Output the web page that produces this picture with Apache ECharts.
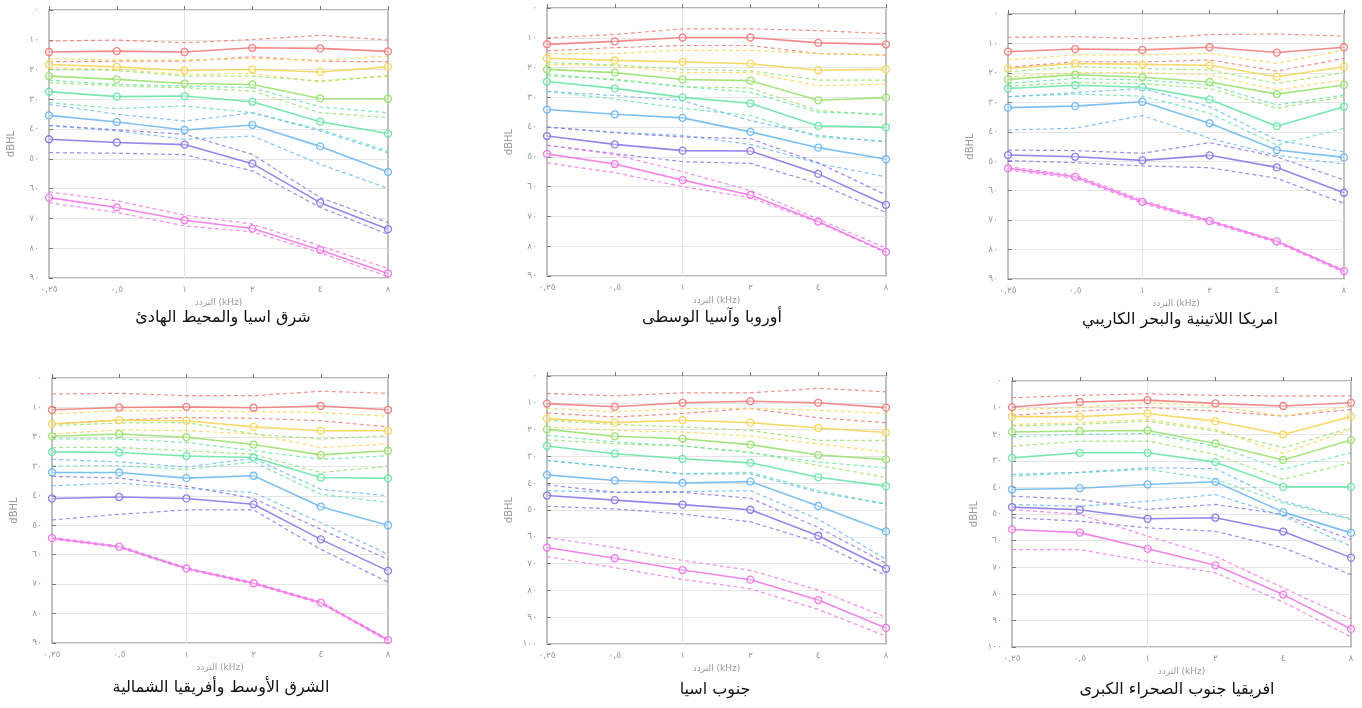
<!DOCTYPE html>
<html>
<head>
<meta charset="utf-8">
<script src="https://cdn.jsdelivr.net/npm/echarts@6/dist/echarts.min.js"></script>
<style>
html,body{margin:0;padding:0;background:#fff;}
#chart{width:1362px;height:708px;}
</style>
</head>
<body>
<div id="chart"></div>
<script>
// ---------- categories & tick labels ----------
const frequencies = [0.25, 0.5, 1, 2, 4, 8];
const xLabels = ['٠,٢٥', '٠,٥', '١', '٢', '٤', '٨'];
const yTickLabels = ['٠', '١٠', '٢٠', '٣٠', '٤٠', '٥٠', '٦٠', '٧٠', '٨٠', '٩٠', '١٠٠'];
const xAxisTitle = 'التردد (kHz)';
const yAxisTitle = 'dBHL';
const panelTitles = [
  'شرق اسيا والمحيط الهادئ',
  'أوروبا وآسيا الوسطى',
  'امريكا اللاتينية والبحر الكاريبي',
  'الشرق الأوسط وأفريقيا الشمالية',
  'جنوب اسيا',
  'افريقيا جنوب الصحراء الكبرى'
];
const groupNames = ['red', 'yellow', 'green', 'teal', 'blue', 'purple', 'magenta'];
const yMax = [90, 90, 90, 90, 100, 100];

// ---------- East Asia & Pacific ----------
const eapMedian = [
  [14.1, 13.8, 14.1, 12.7, 12.9, 13.9],
  [18.3, 19.1, 20.3, 20.0, 20.8, 19.1],
  [22.2, 23.3, 24.7, 25.0, 29.7, 29.8],
  [27.4, 29.1, 28.9, 30.8, 37.5, 41.5],
  [35.4, 37.6, 40.3, 38.6, 45.8, 54.4],
  [43.4, 44.5, 45.2, 51.6, 64.7, 73.6],
  [63.0, 66.3, 70.6, 73.4, 80.6, 88.5]
];
const eapUpper = [
  [10.4, 10.1, 11.0, 9.9, 8.5, 10.1],
  [16.3, 16.8, 16.8, 16.3, 16.9, 15.5],
  [20.0, 20.3, 22.2, 22.2, 23.8, 22.2],
  [23.6, 25.0, 25.5, 26.1, 32.5, 34.5],
  [31.7, 35.0, 37.3, 34.5, 40.6, 47.9],
  [38.7, 40.3, 41.7, 48.5, 63.0, 71.4],
  [61.1, 64.1, 68.9, 71.9, 79.2, 86.8]
];
const eapLower = [
  [17.4, 17.2, 17.2, 15.7, 17.2, 17.4],
  [19.4, 19.9, 21.6, 21.3, 24.2, 21.9],
  [24.4, 25.5, 26.1, 27.2, 34.5, 36.1],
  [31.1, 33.1, 32.2, 34.5, 40.1, 47.3],
  [38.9, 40.6, 43.4, 42.3, 51.8, 59.9],
  [47.9, 48.1, 48.6, 54.0, 66.3, 75.3],
  [64.7, 68.0, 72.5, 74.5, 81.5, 89.5]
];

// ---------- Europe & Central Asia ----------
const ecaMedian = [
  [12.2, 11.2, 9.9, 9.9, 11.7, 12.2],
  [16.9, 17.6, 18.1, 18.7, 20.9, 20.6],
  [20.6, 21.7, 24.0, 24.4, 31.0, 30.1],
  [24.7, 27.0, 30.0, 32.0, 39.6, 40.1],
  [34.1, 35.7, 36.9, 41.6, 46.9, 50.8],
  [43.0, 45.8, 47.9, 48.0, 55.7, 66.1],
  [49.0, 52.4, 57.8, 62.8, 71.7, 81.9]
];
const ecaUpper = [
  [10.0, 8.9, 7.0, 7.0, 7.6, 8.6],
  [15.3, 15.3, 14.2, 14.2, 15.3, 15.8],
  [18.3, 19.1, 20.6, 21.1, 24.2, 24.2],
  [22.2, 24.2, 26.4, 28.3, 35.0, 35.6],
  [28.0, 29.4, 31.1, 37.8, 42.8, 45.0],
  [40.0, 41.9, 43.3, 43.9, 52.0, 62.8],
  [46.1, 49.2, 55.0, 61.3, 70.9, 80.6]
];
const ecaLower = [
  [14.4, 13.3, 12.6, 12.6, 15.3, 15.8],
  [18.9, 19.4, 21.7, 21.7, 26.1, 25.6],
  [22.8, 23.9, 26.4, 26.9, 34.4, 36.1],
  [28.0, 30.6, 33.7, 36.1, 43.3, 44.8],
  [40.0, 41.7, 42.8, 45.8, 52.2, 56.7],
  [46.1, 48.9, 51.6, 52.2, 58.9, 68.7],
  [52.0, 55.3, 60.0, 63.7, 72.0, 82.2]
];

// ---------- Latin America & Caribbean ----------
const lacMedian = [
  [12.8, 11.9, 12.2, 11.3, 13.1, 11.3],
  [18.5, 16.8, 17.1, 17.4, 21.3, 17.9],
  [22.2, 20.6, 21.5, 23.1, 27.2, 24.1],
  [25.3, 24.2, 24.9, 29.0, 38.1, 31.5],
  [31.8, 31.3, 29.8, 37.1, 46.2, 48.7],
  [47.9, 48.5, 49.7, 48.0, 52.1, 60.7],
  [52.4, 55.3, 63.8, 70.3, 77.2, 87.3]
];
const lacUpper = [
  [7.9, 7.7, 8.4, 7.0, 6.8, 7.5],
  [15.6, 13.9, 13.9, 13.4, 16.8, 12.2],
  [19.6, 17.9, 18.5, 19.0, 23.6, 19.9],
  [23.6, 21.9, 22.4, 24.1, 30.9, 27.5],
  [28.1, 26.7, 25.3, 31.5, 42.8, 46.8],
  [46.2, 46.4, 47.3, 43.7, 48.5, 56.4],
  [51.9, 54.7, 63.2, 70.0, 77.0, 87.0]
];
const lacLower = [
  [18.1, 16.2, 16.3, 15.6, 19.4, 15.1],
  [21.3, 19.9, 19.9, 20.7, 25.8, 22.4],
  [24.5, 23.3, 23.6, 25.3, 32.0, 28.1],
  [28.1, 27.2, 27.9, 33.7, 44.5, 38.8],
  [39.4, 38.8, 34.5, 42.2, 48.0, 51.0],
  [49.8, 50.5, 51.6, 52.2, 55.8, 64.3],
  [53.0, 55.8, 64.3, 70.8, 77.6, 87.8]
];

// ---------- Middle East & North Africa ----------
const menaMedian = [
  [10.8, 10.0, 9.8, 10.1, 9.5, 10.8],
  [15.6, 14.3, 14.5, 16.6, 17.9, 17.9],
  [19.8, 19.0, 20.1, 22.6, 26.1, 24.7],
  [25.1, 25.3, 26.5, 27.0, 33.8, 34.1],
  [32.1, 32.1, 34.0, 33.2, 43.7, 50.0],
  [40.9, 40.4, 40.9, 42.9, 54.8, 65.5],
  [54.4, 57.3, 64.7, 69.7, 76.3, 89.0]
];
const menaUpper = [
  [5.4, 5.2, 6.0, 6.0, 4.5, 5.2],
  [12.2, 11.1, 11.1, 11.5, 11.7, 13.0],
  [16.2, 15.3, 15.1, 19.0, 20.7, 19.6],
  [20.7, 20.7, 21.9, 24.7, 27.6, 26.4],
  [27.6, 28.5, 30.2, 27.3, 37.8, 40.0],
  [33.4, 34.0, 36.8, 40.9, 51.4, 61.6],
  [54.1, 57.0, 64.4, 69.4, 76.0, 88.7]
];
const menaLower = [
  [15.6, 14.3, 13.4, 13.7, 14.5, 16.6],
  [19.0, 17.6, 17.9, 19.0, 23.6, 22.4],
  [23.6, 23.6, 24.7, 25.9, 32.1, 30.0],
  [29.8, 29.8, 31.0, 28.5, 39.5, 42.3],
  [36.6, 35.7, 37.5, 38.9, 49.1, 59.9],
  [48.2, 46.3, 44.8, 44.8, 58.2, 69.3],
  [54.7, 57.6, 65.0, 70.0, 76.6, 89.3]
];

// ---------- South Asia ----------
const saMedian = [
  [10.3, 11.5, 10.0, 9.4, 10.0, 11.8],
  [15.9, 17.4, 16.5, 17.4, 19.4, 21.1],
  [19.9, 22.5, 23.4, 25.6, 29.5, 31.1],
  [26.1, 29.0, 30.9, 32.4, 37.8, 41.1],
  [36.9, 39.0, 39.9, 39.4, 48.5, 58.0],
  [44.6, 46.3, 48.0, 49.9, 59.6, 71.9],
  [64.0, 68.0, 72.4, 76.0, 83.6, 94.0]
];
const saUpper = [
  [6.5, 7.4, 6.3, 6.3, 4.6, 5.9],
  [12.1, 13.4, 12.1, 12.1, 12.8, 14.0],
  [16.5, 18.1, 19.0, 20.3, 24.0, 24.0],
  [22.1, 24.6, 26.1, 28.6, 32.1, 34.3],
  [31.5, 34.0, 36.5, 36.5, 43.4, 47.8],
  [40.6, 43.4, 43.4, 45.6, 56.5, 69.9],
  [60.3, 64.0, 68.8, 72.5, 79.9, 90.0]
];
const saLower = [
  [13.8, 15.3, 14.0, 12.1, 15.6, 17.4],
  [19.0, 20.3, 20.9, 22.4, 25.3, 28.4],
  [23.8, 25.3, 26.1, 28.4, 33.4, 37.8],
  [31.5, 34.0, 36.5, 35.9, 42.8, 47.8],
  [42.8, 43.4, 43.1, 42.8, 53.4, 68.4],
  [48.6, 49.6, 51.5, 54.4, 62.1, 74.4],
  [67.4, 71.5, 75.9, 79.4, 87.1, 97.1]
];

// ---------- Sub-Saharan Africa ----------
const ssaMedian = [
  [9.8, 7.9, 7.2, 8.4, 9.4, 8.2],
  [13.4, 13.4, 12.2, 15.1, 20.1, 13.4],
  [19.2, 18.8, 18.6, 23.5, 29.7, 22.2],
  [28.9, 27.0, 27.0, 30.5, 39.8, 39.8],
  [40.8, 40.3, 38.9, 37.9, 49.3, 57.1],
  [47.4, 48.4, 51.8, 51.4, 56.6, 66.4],
  [55.8, 57.0, 63.1, 69.3, 80.3, 93.2]
];
const ssaUpper = [
  [6.3, 5.4, 4.8, 5.4, 5.6, 5.6],
  [10.7, 10.0, 8.2, 9.4, 13.2, 9.4],
  [16.9, 16.3, 15.1, 18.8, 25.1, 17.6],
  [21.0, 20.1, 19.7, 24.5, 33.2, 27.0],
  [35.1, 34.3, 32.6, 33.0, 45.2, 51.8],
  [43.3, 44.5, 48.3, 46.4, 50.2, 59.6],
  [48.3, 50.2, 58.3, 65.9, 77.8, 89.5]
];
const ssaLower = [
  [12.9, 11.3, 10.0, 11.3, 13.2, 10.7],
  [16.3, 15.7, 14.4, 18.2, 27.2, 18.2],
  [24.5, 22.6, 22.6, 27.6, 37.0, 30.7],
  [35.8, 34.5, 33.2, 37.0, 45.8, 52.1],
  [46.4, 47.1, 45.2, 42.7, 50.8, 62.1],
  [51.4, 52.7, 55.2, 56.5, 62.7, 72.8],
  [63.4, 63.4, 67.8, 72.1, 83.1, 96.2]
];

// ---------- styling / layout ----------
const groupColors = ['#f07676', '#f6d450', '#94e066', '#60e4a2', '#66b5f0', '#8470e6', '#f070e6'];
const FONT = 'DejaVu Sans';
const panelData = [
  [eapMedian, eapUpper, eapLower],
  [ecaMedian, ecaUpper, ecaLower],
  [lacMedian, lacUpper, lacLower],
  [menaMedian, menaUpper, menaLower],
  [saMedian, saUpper, saLower],
  [ssaMedian, ssaUpper, ssaLower]
];
const gridBoxes = [
  {left: 49, top: 10, width: 339, height: 268},
  {left: 547, top: 8, width: 339, height: 268},
  {left: 1008, top: 14, width: 336, height: 265},
  {left: 52, top: 378, width: 336, height: 265},
  {left: 547, top: 376, width: 339, height: 268},
  {left: 1012, top: 381, width: 339, height: 266}
];
const titlePos = [[223, 318], [712, 318], [1180, 320], [221, 688], [715, 690], [1177, 690]];

const grids = [], xAxes = [], yAxes = [], series = [], graphics = [];
gridBoxes.forEach((g, i) => {
  grids.push(Object.assign({show: true, borderColor: '#a0a0a0', borderWidth: 1.3, backgroundColor: '#fff'}, g));
  xAxes.push({
    gridIndex: i, type: 'category', data: xLabels, boundaryGap: false,
    axisLine: {show: false},
    axisTick: {show: true, inside: true, length: 4, alignWithLabel: true, lineStyle: {color: '#777'}},
    axisLabel: {color: '#9a9a9a', fontSize: 9, margin: 7, fontFamily: FONT},
    splitLine: {show: true, interval: (idx) => idx === 2, lineStyle: {color: '#e4e4e4', width: 1}},
    name: xAxisTitle, nameLocation: 'middle', nameGap: 20,
    nameTextStyle: {color: '#9a9a9a', fontSize: 9, fontFamily: FONT}
  });
  yAxes.push({
    gridIndex: i, type: 'value', inverse: true, min: 0, max: yMax[i], interval: 10,
    axisLine: {show: false},
    axisTick: {show: true, inside: true, length: 4, lineStyle: {color: '#777'}},
    axisLabel: {color: '#9a9a9a', fontSize: 9, margin: 10, fontFamily: FONT,
      formatter: (v) => yTickLabels[Math.round(v / 10)]},
    splitLine: {show: true, lineStyle: {color: '#e6e6e6', width: 1}},
    name: yAxisTitle, nameLocation: 'middle', nameGap: 33, nameRotate: 90,
    nameTextStyle: {color: '#9a9a9a', fontSize: 10, fontFamily: FONT}
  });
  const [med, up, lo] = panelData[i];
  groupNames.forEach((gn, k) => {
    const c = groupColors[k];
    [up[k], lo[k]].forEach((arr, j) => {
      series.push({
        name: gn + (j ? '-lower' : '-upper'), type: 'line', xAxisIndex: i, yAxisIndex: i,
        data: arr, symbol: 'none', silent: true, animation: false,
        lineStyle: {color: c, width: 1.2, type: [4, 3], opacity: 0.8}
      });
    });
    series.push({
      name: gn + '-median', type: 'line', xAxisIndex: i, yAxisIndex: i,
      data: med[k], symbol: 'circle', symbolSize: 7, silent: true, animation: false,
      itemStyle: {color: 'rgba(255,255,255,0.35)', borderColor: c, borderWidth: 1.3, opacity: 0.9},
      lineStyle: {color: c, width: 1.6, opacity: 0.85}
    });
  });
  graphics.push({
    type: 'text', x: titlePos[i][0], y: titlePos[i][1],
    style: {text: panelTitles[i], fill: '#111', font: '16px "DejaVu Sans"', textAlign: 'center', textVerticalAlign: 'middle'}
  });
});

const chart = echarts.init(document.getElementById('chart'), null, {renderer: 'canvas'});
chart.setOption({
  backgroundColor: '#fff',
  animation: false,
  textStyle: {fontFamily: FONT},
  grid: grids, xAxis: xAxes, yAxis: yAxes, series: series, graphic: graphics
});
</script>
</body>
</html>
